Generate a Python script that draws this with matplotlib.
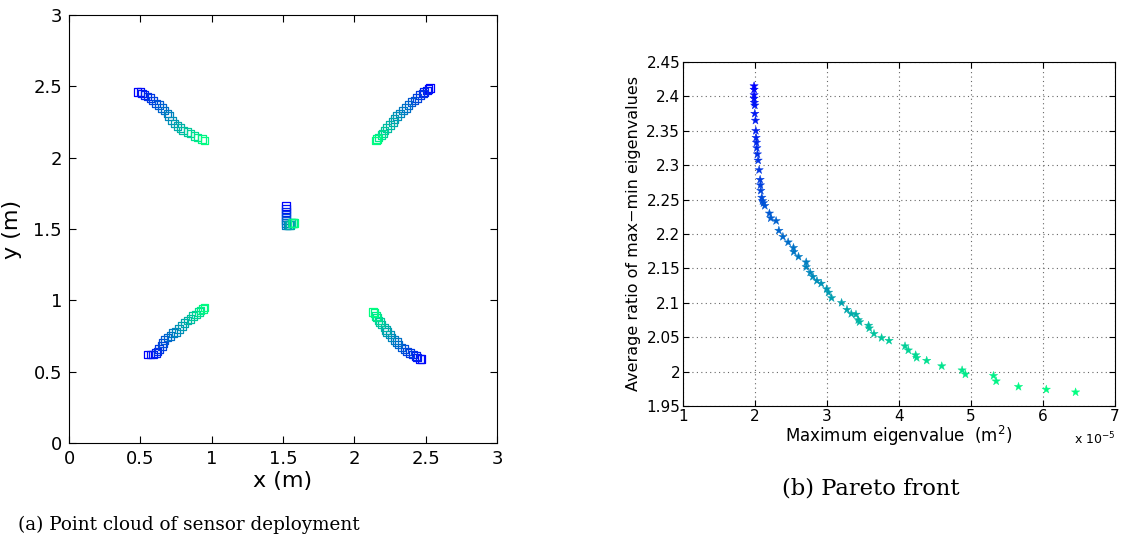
import numpy as np
import matplotlib
matplotlib.use("Agg")
import matplotlib.pyplot as plt

# sensor positions (m), one list per sensor, ordered from first to last solution
tl_x = [0.48, 0.50, 0.51, 0.53, 0.55, 0.57, 0.59, 0.61, 0.63, 0.65, 0.67, 0.69,
        0.70, 0.72, 0.74, 0.76, 0.78, 0.80, 0.83, 0.85, 0.88, 0.90, 0.93, 0.95]
tl_y = [2.46, 2.46, 2.45, 2.44, 2.43, 2.42, 2.40, 2.38, 2.37, 2.35, 2.33, 2.31,
        2.29, 2.26, 2.24, 2.22, 2.21, 2.19, 2.18, 2.17, 2.15, 2.14, 2.13, 2.12]
tr_x = [2.53, 2.52, 2.51, 2.49, 2.48, 2.46, 2.44, 2.42, 2.40, 2.38, 2.36, 2.34,
        2.32, 2.30, 2.28, 2.27, 2.25, 2.23, 2.21, 2.20, 2.19, 2.17, 2.16, 2.15]
tr_y = [2.49, 2.48, 2.47, 2.46, 2.45, 2.44, 2.42, 2.40, 2.39, 2.37, 2.35, 2.33,
        2.31, 2.29, 2.27, 2.25, 2.23, 2.21, 2.19, 2.17, 2.16, 2.14, 2.13, 2.12]
bl_x = [0.55, 0.57, 0.59, 0.61, 0.62, 0.63, 0.65, 0.66, 0.67, 0.69, 0.71, 0.73,
        0.75, 0.77, 0.79, 0.81, 0.83, 0.85, 0.87, 0.89, 0.91, 0.92, 0.94, 0.95]
bl_y = [0.62, 0.62, 0.62, 0.63, 0.64, 0.66, 0.68, 0.70, 0.72, 0.74, 0.75, 0.77,
        0.78, 0.80, 0.82, 0.84, 0.86, 0.87, 0.89, 0.90, 0.92, 0.93, 0.94, 0.95]
br_x = [2.47, 2.46, 2.44, 2.43, 2.41, 2.39, 2.37, 2.35, 2.33, 2.31, 2.30, 2.28,
        2.26, 2.25, 2.23, 2.22, 2.21, 2.19, 2.18, 2.17, 2.16, 2.15, 2.14, 2.13]
br_y = [0.59, 0.59, 0.60, 0.61, 0.62, 0.63, 0.64, 0.66, 0.67, 0.69, 0.71, 0.72,
        0.74, 0.76, 0.78, 0.79, 0.81, 0.83, 0.85, 0.86, 0.88, 0.89, 0.91, 0.92]
c_x = [1.52, 1.52, 1.52, 1.52, 1.52, 1.52, 1.52, 1.52, 1.53, 1.54, 1.55, 1.56, 1.56, 1.57, 1.57, 1.58]
c_y = [1.66, 1.64, 1.62, 1.60, 1.58, 1.56, 1.54, 1.53, 1.53, 1.53, 1.53, 1.54, 1.54, 1.54, 1.54, 1.54]

# pareto front: max eigenvalue (x 1e-5 m^2) vs mean max/min eigenvalue ratio
max_eig = [1.987, 1.987, 1.987, 1.987, 1.991, 1.997, 1.997, 2.006, 2.011, 2.015,
           2.020, 2.025, 2.033, 2.043, 2.057, 2.071, 2.075, 2.080, 2.094, 2.103,
           2.117, 2.136, 2.200, 2.219, 2.293, 2.331, 2.387, 2.460, 2.534, 2.539,
           2.604, 2.711, 2.711, 2.766, 2.804, 2.860, 2.919, 2.995, 3.021, 3.063,
           3.202, 3.277, 3.337, 3.402, 3.434, 3.452, 3.577, 3.587, 3.652, 3.758,
           3.861, 4.083, 4.129, 4.231, 4.245, 4.384, 4.593, 4.876, 4.922, 5.312,
           5.349, 5.659, 6.045, 6.452]
ratio = [2.415, 2.410, 2.402, 2.397, 2.391, 2.387, 2.375, 2.365, 2.350, 2.340,
         2.333, 2.325, 2.316, 2.307, 2.293, 2.279, 2.271, 2.263, 2.253, 2.248,
         2.245, 2.241, 2.230, 2.223, 2.219, 2.205, 2.196, 2.188, 2.180, 2.174,
         2.167, 2.159, 2.152, 2.144, 2.138, 2.132, 2.128, 2.120, 2.115, 2.107,
         2.100, 2.090, 2.084, 2.083, 2.075, 2.072, 2.067, 2.063, 2.055, 2.049,
         2.045, 2.037, 2.031, 2.024, 2.020, 2.016, 2.008, 2.002, 1.996, 1.994,
         1.986, 1.978, 1.974, 1.970]

cmap = plt.get_cmap('winter')

fig = plt.figure(figsize=(11.21, 5.51), dpi=100)

# (a) sensor point cloud
ax1 = fig.add_axes([0.0616, 0.196, 0.3818, 0.7768])
for xs, ys in [(tl_x, tl_y), (tr_x, tr_y), (bl_x, bl_y), (br_x, br_y), (c_x, c_y)]:
    cols = cmap(np.linspace(0, 1, len(xs)))
    ax1.scatter(xs, ys, marker='s', s=30, facecolors='none', edgecolors=cols, linewidths=0.9)
ax1.set_xlim(0, 3)
ax1.set_ylim(0, 3)
ticks = [0, 0.5, 1, 1.5, 2, 2.5, 3]
ax1.set_xticks(ticks)
ax1.set_yticks(ticks)
ax1.set_xticklabels(['0', '0.5', '1', '1.5', '2', '2.5', '3'])
ax1.set_yticklabels(['0', '0.5', '1', '1.5', '2', '2.5', '3'])
ax1.tick_params(direction='in', length=5, labelsize=13, top=True, right=True, pad=5)
ax1.set_xlabel('x (m)', fontsize=16, labelpad=2)
ax1.set_ylabel('y (m)', fontsize=16, labelpad=8)

# (b) pareto front
ax2 = fig.add_axes([0.6093, 0.2632, 0.3854, 0.6243])
cols = cmap(np.linspace(0, 1, len(max_eig)))
ax2.scatter(max_eig, ratio, marker='*', s=40, c=cols, linewidths=0.3)
ax2.set_xlim(1, 7)
ax2.set_ylim(1.95, 2.45)
ax2.set_xticks(range(1, 8))
yt = [1.95, 2.0, 2.05, 2.1, 2.15, 2.2, 2.25, 2.3, 2.35, 2.4, 2.45]
ax2.set_yticks(yt)
ax2.set_yticklabels(['1.95', '2', '2.05', '2.1', '2.15', '2.2', '2.25', '2.3', '2.35', '2.4', '2.45'])
ax2.grid(True, linestyle=(0, (1, 3)), color='0.4', linewidth=0.8)
ax2.set_axisbelow(True)
ax2.tick_params(direction='in', length=4, labelsize=11, top=True, right=True, pad=2)
ax2.set_xlabel('Maximum eigenvalue  (m$^2$)', fontsize=12, labelpad=0)
ax2.set_ylabel('Average ratio of max\u2212min eigenvalues', fontsize=11.5, labelpad=4)
ax2.text(0.905, -0.095, r'x 10$^{-5}$', transform=ax2.transAxes, fontsize=9, va='center')

fig.text(0.016, 0.047, '(a) Point cloud of sensor deployment', family='DejaVu Serif', fontsize=13.2, va='center')
fig.text(0.698, 0.114, '(b) Pareto front', family='DejaVu Serif', fontsize=16.3, va='center')

fig.savefig('out.png', dpi=100)
